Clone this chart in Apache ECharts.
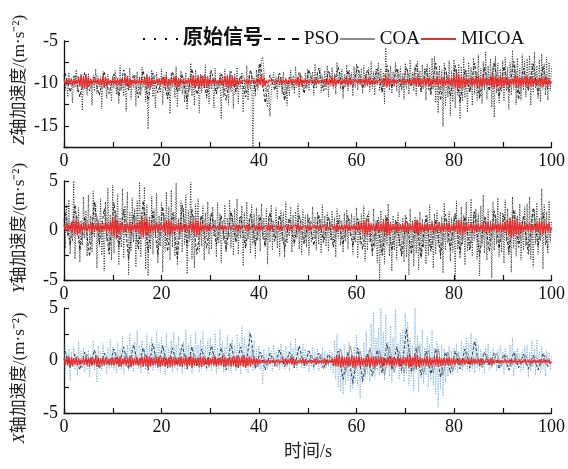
<!DOCTYPE html>
<html>
<head>
<meta charset="utf-8">
<script src="https://cdn.jsdelivr.net/npm/echarts@6/dist/echarts.min.js"></script>
<style>
  html, body { margin: 0; padding: 0; background: #fff; }
  #chart { width: 568px; height: 469px; }
</style>
</head>
<body>
<div id="chart"></div>
<script>
// Sampling of the recorded traces (seconds)
const rawStep = 0.25;   // raw signal and MICOA output
const fitStep = 1.0;    // PSO and COA outputs
const psoStart = 0.25;
const coaStart = 0.75;

const seriesNames = ['原始信号', 'PSO', 'COA', 'MICOA'];
const xTicks = [0, 20, 40, 60, 80, 100];

// ---- Z axis acceleration (m/s^2) ----
const zOrig = [
  -9.0,-10.8,-9.5,-11.6,-8.7,-10.2,-9.9,-12.3,-9.1,-10.5,-8.4,-11.0,-9.6,-10.1,-8.9,-13.2,-9.3,-10.7,-9.7,-11.4,
  -8.8,-10.3,-9.4,-12.6,-9.0,-10.9,-8.3,-11.2,-9.8,-10.4,-9.2,-13.0,-8.6,-10.6,-9.5,-11.8,-8.9,-10.2,-9.7,-12.1,
  -9.1,-10.6,-8.5,-11.3,-9.6,-12.4,-7.9,-10.8,-9.3,-11.5,-8.8,-13.3,-9.4,-10.3,-8.2,-11.9,-9.7,-10.5,-9.0,-12.7,
  -8.6,-10.9,-9.2,-11.4,-8.1,-10.4,-9.5,-12.2,-8.9,-15.4,-9.6,-10.7,-8.4,-11.6,-9.1,-12.9,-8.7,-10.3,-9.4,-11.1,
  -8.3,-12.5,-9.0,-10.6,-8.6,-11.9,-9.5,-13.6,-8.8,-10.5,-9.2,-11.7,-8.0,-12.8,-9.4,-10.9,-8.5,-11.3,-9.7,-12.2,
  -8.7,-13.1,-9.3,-10.8,-7.6,-11.5,-9.0,-12.6,-8.4,-10.4,-9.5,-13.5,-8.9,-11.1,-9.2,-10.6,-7.8,-11.8,-9.1,-12.4,
  -8.5,-10.7,-9.4,-12.9,-8.2,-11.3,-9.6,-10.5,-8.8,-14.2,-9.0,-11.6,-8.3,-10.9,-9.5,-12.5,-8.6,-11.0,-9.2,-13.0,
  -8.9,-11.2,-8.1,-12.4,-9.3,-10.6,-8.7,-13.4,-9.6,-11.0,-7.9,-12.0,-9.0,-10.7,-8.8,-17.5,-9.4,-11.5,-8.4,-10.8,
  -7.8,-9.6,-7.2,-6.9,-8.5,-10.4,-11.5,-12.8,-10.9,-13.9,-11.2,-9.6,-8.7,-10.6,-9.2,-11.8,-8.9,-10.4,-9.5,-11.2,
  -8.6,-11.9,-9.3,-12.6,-9.8,-11.4,-8.4,-10.7,-9.1,-11.2,-8.0,-10.5,-9.4,-11.7,-8.8,-10.3,-9.6,-11.0,-8.7,-10.6,
  -8.3,-10.9,-9.0,-10.2,-8.6,-11.4,-7.7,-10.6,-8.9,-10.0,-8.2,-11.1,-9.1,-10.4,-8.5,-10.8,-7.9,-11.6,-8.7,-10.3,
  -8.1,-10.6,-8.8,-11.3,-7.5,-10.1,-8.6,-10.7,-8.3,-11.8,-8.9,-10.4,-7.8,-10.9,-8.4,-10.2,-8.7,-11.5,-8.0,-10.5,
  -7.7,-10.8,-8.5,-10.1,-8.2,-11.2,-7.9,-10.5,-8.8,-10.3,-8.1,-11.0,-7.4,-10.6,-8.6,-11.4,-8.3,-10.2,-7.6,-10.9,
  -8.2,-11.1,-8.7,-12.4,-5.8,-10.3,-8.4,-10.8,-7.9,-11.2,-8.6,-10.4,-7.5,-10.9,-8.3,-11.6,-8.0,-10.5,-8.8,-11.9,
  -7.6,-10.7,-8.4,-11.3,-7.2,-10.2,-8.7,-10.9,-8.0,-11.5,-7.4,-10.4,-8.5,-11.1,-7.8,-10.6,-8.2,-12.0,-7.7,-10.8,
  -8.1,-11.4,-7.0,-10.6,-6.8,-12.3,-8.6,-13.5,-7.9,-11.0,-8.4,-15.1,-7.6,-12.7,-8.8,-11.6,-7.3,-13.8,-8.5,-12.2,
  -7.2,-12.9,-8.3,-11.4,-7.7,-14.2,-8.0,-12.1,-6.9,-11.7,-8.4,-13.4,-7.5,-11.0,-8.1,-12.6,-7.0,-11.3,-8.6,-12.0,
  -6.6,-11.5,-8.2,-12.4,-7.4,-10.8,-6.2,-11.9,-7.9,-10.6,-7.1,-12.8,-8.0,-14.0,-6.8,-11.2,-7.6,-12.3,-8.3,-11.0,
  -7.3,-12.1,-6.9,-10.9,-8.1,-13.1,-7.5,-11.4,-6.1,-10.7,-7.8,-12.5,-7.0,-11.2,-8.2,-12.0,-6.6,-10.8,-7.4,-11.6,
  -7.1,-10.9,-6.7,-12.6,-7.6,-11.1,-6.3,-10.6,-7.9,-11.8,-7.2,-12.2,-6.5,-10.7,-7.7,-11.4,-6.9,-12.0,-7.5,-10.9,
  -8.0
];
const zPso = [
  -8.8,-11.0,-9.1,-11.6,-8.7,-10.9,-9.3,-11.4,-8.6,-11.2,
  -8.9,-11.5,-8.4,-10.8,-9.0,-11.7,-8.5,-12.0,-8.8,-11.1,
  -9.2,-11.8,-8.6,-11.0,-8.9,-12.1,-8.3,-11.3,-9.0,-11.5,
  -8.5,-11.2,-8.9,-12.0,-8.6,-11.0,-9.1,-11.6,-8.4,-10.9,
  -7.6,-12.3,-9.0,-10.8,-8.8,-12.0,-9.2,-10.6,-8.7,-11.2,
  -8.4,-10.5,-8.2,-10.9,-8.6,-10.3,-8.1,-10.8,-8.5,-10.4,
  -8.0,-10.6,-8.4,-10.2,-8.3,-11.0,-7.9,-10.5,-8.2,-10.7,
  -8.1,-10.4,-7.8,-10.9,-8.3,-11.2,-7.6,-12.0,-8.2,-11.5,
  -7.9,-12.2,-8.4,-11.0,-7.6,-11.8,-8.1,-10.9,-7.5,-11.6,
  -8.0,-11.0,-7.4,-11.9,-8.2,-10.8,-7.7,-11.3,-8.0,-10.9
];
const zCoa = [
  -9.3,-10.5,-9.1,-10.7,-9.4,-10.3,-9.0,-10.6,-9.5,-10.4,
  -9.2,-10.8,-9.4,-10.5,-9.1,-10.9,-9.3,-10.6,-9.0,-10.4,
  -9.3,-10.7,-9.1,-10.5,-9.4,-10.8,-9.2,-10.4,-9.0,-10.6,
  -9.3,-10.5,-9.2,-10.7,-9.4,-10.3,-9.1,-10.6,-9.3,-10.5,
  -8.8,-11.0,-9.5,-10.4,-9.2,-10.9,-9.4,-10.3,-9.1,-10.6,
  -9.0,-10.2,-8.9,-10.4,-9.1,-10.1,-8.8,-10.3,-9.0,-10.2,
  -8.9,-10.3,-9.1,-10.0,-8.8,-10.4,-9.0,-10.2,-8.9,-10.5,
  -9.0,-10.3,-8.8,-10.5,-9.1,-10.7,-8.7,-10.9,-9.0,-10.6,
  -8.8,-10.8,-9.0,-10.5,-8.7,-10.7,-9.0,-10.4,-8.6,-10.6,
  -8.9,-10.5,-8.6,-10.8,-9.0,-10.4,-8.8,-10.6,-8.9,-10.3
];
const zMicoa = [
  -9.5,-10.1,-9.6,-10.0,-9.5,-10.1,-9.4,-10.2,-9.5,-10.1,-9.6,-10.0,-9.2,-10.4,-9.0,-10.6,-9.1,-10.5,-8.9,-10.7,
  -9.3,-10.3,-9.5,-10.1,-9.6,-10.0,-9.5,-10.1,-9.4,-10.2,-9.5,-10.1,-9.1,-10.5,-9.2,-10.4,-9.5,-10.1,-9.6,-10.0,
  -9.5,-10.1,-9.6,-10.0,-9.4,-10.2,-9.5,-10.1,-9.6,-10.0,-9.3,-10.3,-9.1,-10.5,-9.4,-10.2,-9.6,-10.0,-9.5,-10.1,
  -9.6,-10.0,-9.5,-10.1,-9.6,-10.0,-9.4,-10.2,-9.0,-10.6,-9.2,-10.4,-9.5,-10.1,-9.6,-10.0,-9.5,-10.1,-9.4,-10.2,
  -9.5,-10.1,-9.3,-10.3,-9.1,-10.5,-9.5,-10.1,-9.6,-10.0,-9.3,-10.3,-9.1,-10.5,-9.4,-10.2,-9.6,-10.0,-9.5,-10.1,
  -9.6,-10.0,-9.5,-10.1,-9.3,-10.3,-9.1,-10.5,-9.4,-10.2,-9.0,-10.6,-9.2,-10.4,-9.3,-10.3,-9.1,-10.5,-9.4,-10.2,
  -9.5,-10.1,-9.6,-10.0,-9.5,-10.1,-9.6,-10.0,-9.4,-10.2,-9.5,-10.1,-9.2,-10.4,-9.0,-10.6,-9.1,-10.5,-9.3,-10.3,
  -9.2,-10.4,-9.5,-10.1,-9.6,-10.0,-9.7,-9.9,-9.6,-10.0,-9.5,-10.1,-9.6,-10.0,-9.7,-9.9,-9.6,-10.0,-9.5,-10.1,
  -9.4,-10.2,-9.1,-10.5,-9.3,-10.3,-9.6,-10.0,-9.7,-9.9,-9.7,-9.9,-9.6,-10.0,-9.7,-9.9,-9.6,-10.0,-9.5,-10.1,
  -9.6,-10.0,-9.5,-10.1,-9.6,-10.0,-9.5,-10.1,-9.6,-10.0,-9.5,-10.1,-9.2,-10.4,-9.3,-10.3,-9.6,-10.0,-9.5,-10.1,
  -9.6,-10.0,-9.7,-9.9,-9.6,-10.0,-9.5,-10.1,-9.6,-10.0,-9.7,-9.9,-9.6,-10.0,-9.5,-10.1,-9.4,-10.2,-9.5,-10.1,
  -9.2,-10.4,-9.3,-10.3,-9.6,-10.0,-9.5,-10.1,-9.6,-10.0,-9.5,-10.1,-9.3,-10.3,-9.4,-10.2,-9.6,-10.0,-9.7,-9.9,
  -9.6,-10.0,-9.5,-10.1,-9.6,-10.0,-9.5,-10.1,-9.3,-10.3,-9.4,-10.2,-9.6,-10.0,-9.5,-10.1,-9.6,-10.0,-9.7,-9.9,
  -9.6,-10.0,-9.4,-10.2,-9.1,-10.5,-9.3,-10.3,-9.6,-10.0,-9.5,-10.1,-9.6,-10.0,-9.7,-9.9,-9.6,-10.0,-9.5,-10.1,
  -9.6,-10.0,-9.5,-10.1,-9.6,-10.0,-9.5,-10.1,-9.3,-10.3,-9.2,-10.4,-9.4,-10.2,-9.5,-10.1,-9.3,-10.3,-9.4,-10.2,
  -9.3,-10.3,-9.5,-10.1,-9.4,-10.2,-9.3,-10.3,-9.5,-10.1,-9.2,-10.4,-9.4,-10.2,-9.5,-10.1,-9.3,-10.3,-9.4,-10.2,
  -9.1,-10.5,-8.8,-10.8,-9.0,-10.6,-9.2,-10.4,-9.1,-10.5,-9.4,-10.2,-9.5,-10.1,-9.3,-10.3,-9.4,-10.2,-9.2,-10.4,
  -9.1,-10.5,-9.3,-10.3,-9.2,-10.4,-9.4,-10.2,-9.5,-10.1,-9.1,-10.5,-9.0,-10.6,-9.2,-10.4,-9.3,-10.3,-9.1,-10.5,
  -9.2,-10.4,-9.4,-10.2,-9.3,-10.3,-9.5,-10.1,-9.4,-10.2,-9.2,-10.4,-9.1,-10.5,-9.3,-10.3,-9.4,-10.2,-9.2,-10.4,
  -9.1,-10.5,-9.3,-10.3,-9.2,-10.4,-9.4,-10.2,-9.5,-10.1,-9.3,-10.3,-9.2,-10.4,-9.4,-10.2,-9.3,-10.3,-9.5,-10.1,
  -9.8
];

// ---- Y axis acceleration (m/s^2) ----
const yOrig = [
  1.2,-1.8,2.6,-0.6,3.1,-2.4,0.9,-1.1,5.0,-2.9,1.7,-0.4,2.3,-3.2,1.0,-1.5,3.4,-0.8,2.0,-2.6,
  3.6,-1.3,1.5,-2.2,4.0,-0.7,2.7,-3.8,1.1,-1.6,3.2,-2.5,0.8,-4.1,2.9,-1.0,4.3,-1.9,1.6,-3.0,
  4.6,-2.3,2.0,-0.9,3.7,-3.5,1.3,-1.7,4.2,-2.8,2.5,-0.5,3.9,-4.5,1.8,-2.1,3.3,-1.2,2.2,-3.7,
  3.0,-1.4,4.9,-2.7,1.7,-0.8,4.4,-3.9,2.6,-4.6,1.4,-1.9,3.5,-2.4,2.1,-0.6,3.8,-3.3,1.5,-1.6,
  2.8,-4.2,1.6,-2.0,3.9,-1.2,2.4,-3.0,4.1,-1.7,1.9,-2.6,4.8,-3.5,1.2,-0.9,3.0,-2.2,2.3,-1.4,
  3.6,-4.4,2.0,-1.1,4.9,-2.9,1.5,-3.8,2.7,-0.7,3.2,-2.1,1.4,-1.6,2.5,-3.0,1.8,-0.8,2.9,-2.4,
  1.5,-1.9,2.4,-0.6,1.1,-2.7,2.8,-1.3,1.7,-3.3,0.9,-1.0,2.6,-2.2,1.3,-0.7,3.1,-1.8,1.6,-2.5,
  2.2,-1.1,3.2,-2.4,1.4,-0.8,2.5,-3.6,1.8,-1.5,2.9,-0.9,1.2,-2.3,2.6,-1.4,1.7,-2.8,2.3,-1.0,
  1.6,-2.1,2.7,-0.8,1.3,-1.6,2.2,-3.4,1.5,-1.2,2.6,-2.0,1.0,-0.7,2.3,-1.8,1.4,-2.6,2.0,-1.1,
  1.8,-2.7,2.9,-1.3,1.2,-0.6,2.4,-2.2,1.6,-1.5,1.9,-0.8,2.7,-1.9,1.1,-2.4,2.1,-1.0,1.5,-1.7,
  1.7,-2.5,1.0,-1.2,2.4,-0.7,1.4,-2.0,1.9,-1.4,1.2,-2.3,2.6,-0.9,1.5,-1.6,1.8,-2.1,1.1,-1.0,
  2.0,-1.3,1.3,-2.7,2.2,-0.8,1.6,-1.5,1.0,-2.2,1.8,-1.1,2.1,-1.9,1.2,-0.6,1.7,-2.4,1.4,-1.2,
  2.3,-2.8,1.1,-1.4,1.7,-0.9,2.5,-3.1,1.3,-2.0,1.9,-1.2,0.8,-2.6,2.2,-1.7,1.0,-3.3,1.4,-5.0,
  2.0,-2.2,1.2,-3.4,1.6,-1.5,2.7,-2.6,0.9,-4.1,1.5,-2.0,1.1,-3.0,1.8,-1.6,0.7,-2.4,1.3,-3.2,
  1.6,-2.7,0.8,-4.5,2.2,-1.9,1.0,-3.6,1.4,-2.3,0.6,-4.0,1.9,-2.8,1.2,-1.7,0.9,-3.4,1.5,-2.5,
  2.6,-1.8,1.0,-3.8,1.7,-2.4,2.0,-1.5,0.8,-2.9,1.4,-4.3,2.8,-2.0,1.1,-1.3,1.9,-3.1,1.3,-2.2,
  1.5,-5.0,3.0,-1.9,1.2,-2.8,2.4,-1.4,1.6,-3.5,2.9,-2.1,1.3,-1.6,3.2,-2.6,1.8,-1.0,2.2,-2.9,
  1.7,-4.6,2.5,-1.5,3.6,-2.3,1.4,-3.0,2.1,-1.2,1.0,-4.8,2.9,-2.0,1.6,-1.4,3.3,-2.7,1.9,-2.2,
  1.8,-3.3,3.1,-1.1,2.2,-2.5,1.3,-4.2,3.4,-1.8,2.0,-2.6,1.5,-1.3,2.7,-3.0,1.1,-2.0,2.4,-1.6,
  2.7,-1.8,3.4,-2.9,1.6,-3.7,2.1,-1.4,2.8,-2.4,1.3,-1.1,4.2,-3.9,2.6,-1.5,1.9,-2.3,3.0,-1.2,
  1.0
];
const yPso = [
  1.8,-1.5,2.6,-2.0,1.4,-2.6,2.9,-1.3,2.2,-2.4,
  2.8,-1.7,2.1,-2.9,1.6,-1.9,3.0,-2.2,1.9,-2.5,
  2.4,-2.1,1.7,-2.8,2.6,-1.6,2.2,-2.4,1.5,-1.8,
  1.8,-1.4,1.5,-2.0,1.9,-1.2,1.4,-1.8,1.7,-1.5,
  1.4,-1.6,1.8,-1.1,1.5,-1.9,1.2,-1.3,1.6,-1.4,
  1.3,-1.5,1.6,-1.2,1.4,-1.7,1.1,-1.4,1.5,-1.6,
  1.2,-1.9,1.5,-2.2,1.0,-2.5,1.4,-2.0,0.9,-2.6,
  1.3,-2.4,1.0,-2.7,1.5,-2.1,1.1,-2.5,1.6,-1.9,
  1.7,-2.3,1.4,-2.0,1.9,-2.6,1.3,-2.1,2.0,-1.8,
  1.6,-2.2,2.1,-1.7,1.5,-2.4,2.3,-1.6,1.8,-2.0
];
const yCoa = [
  1.2,-0.8,1.4,-0.9,1.1,-1.0,1.5,-0.7,1.3,-0.9,
  1.6,-0.6,1.2,-1.1,1.4,-0.8,1.7,-0.9,1.1,-1.0,
  1.3,-0.9,1.5,-0.7,1.2,-1.0,1.4,-0.8,1.1,-0.6,
  1.0,-0.6,1.1,-0.8,0.9,-0.5,1.0,-0.7,1.1,-0.6,
  0.9,-0.7,1.0,-0.5,1.1,-0.8,0.8,-0.6,1.0,-0.7,
  0.9,-0.6,1.0,-0.7,0.8,-0.5,1.0,-0.8,0.9,-0.6,
  0.8,-0.9,0.7,-1.1,0.9,-1.2,0.6,-1.0,0.8,-1.1,
  0.7,-1.2,0.8,-1.0,0.6,-1.1,0.9,-1.3,0.7,-0.9,
  1.0,-1.1,0.8,-0.9,1.1,-1.2,0.9,-0.8,1.2,-1.0,
  1.0,-0.9,1.3,-1.1,0.9,-1.0,1.2,-0.8,1.1,-0.9
];
const yMicoa = [
  0.6,0.0,0.7,-0.1,0.6,0.0,0.8,-0.2,1.0,-0.4,1.1,-0.5,0.9,-0.3,0.7,-0.1,0.6,0.0,0.7,-0.1,
  0.6,0.0,0.8,-0.2,0.7,-0.1,0.6,0.0,0.8,-0.2,0.7,-0.1,0.6,0.0,0.8,-0.2,0.7,-0.1,0.9,-0.3,
  1.2,-0.6,1.4,-0.8,1.0,-0.4,0.7,-0.1,0.8,-0.2,0.6,0.0,0.7,-0.1,0.9,-0.3,0.6,0.0,0.7,-0.1,
  0.8,-0.2,1.0,-0.4,1.3,-0.7,1.1,-0.5,1.2,-0.6,0.9,-0.3,0.7,-0.1,0.6,0.0,0.8,-0.2,0.7,-0.1,
  0.6,0.0,0.8,-0.2,1.0,-0.4,1.1,-0.5,0.9,-0.3,0.7,-0.1,0.6,0.0,0.8,-0.2,0.7,-0.1,0.6,0.0,
  0.7,-0.1,0.6,0.0,0.8,-0.2,0.9,-0.3,1.1,-0.5,1.0,-0.4,0.7,-0.1,0.6,0.0,0.7,-0.1,0.6,0.0,
  0.5,0.1,0.4,0.2,0.5,0.1,0.4,0.2,0.5,0.1,0.6,0.0,0.5,0.1,0.4,0.2,0.5,0.1,0.4,0.2,
  0.5,0.1,0.6,0.0,0.5,0.1,0.4,0.2,0.5,0.1,0.6,0.0,0.5,0.1,0.4,0.2,0.6,0.0,0.5,0.1,
  0.6,0.0,0.5,0.1,0.4,0.2,0.5,0.1,0.7,-0.1,0.5,0.1,0.4,0.2,0.5,0.1,0.6,0.0,0.5,0.1,
  0.4,0.2,0.5,0.1,0.6,0.0,0.5,0.1,0.4,0.2,0.6,0.0,0.7,-0.1,0.5,0.1,0.4,0.2,0.5,0.1,
  0.6,0.0,0.5,0.1,0.4,0.2,0.5,0.1,0.6,0.0,0.5,0.1,0.4,0.2,0.6,0.0,0.5,0.1,0.4,0.2,
  0.5,0.1,0.6,0.0,0.7,-0.1,0.5,0.1,0.6,0.0,0.5,0.1,0.7,-0.1,0.6,0.0,0.5,0.1,0.6,0.0,
  0.7,-0.1,0.6,0.0,0.8,-0.2,1.0,-0.4,1.1,-0.5,0.8,-0.2,0.6,0.0,0.7,-0.1,0.6,0.0,0.8,-0.2,
  0.7,-0.1,0.9,-0.3,1.2,-0.6,1.0,-0.4,0.7,-0.1,0.6,0.0,0.8,-0.2,0.7,-0.1,0.6,0.0,0.7,-0.1,
  0.8,-0.2,0.7,-0.1,0.6,0.0,0.8,-0.2,0.9,-0.3,1.1,-0.5,0.8,-0.2,0.7,-0.1,0.6,0.0,0.7,-0.1,
  0.6,0.0,0.8,-0.2,0.7,-0.1,0.6,0.0,0.8,-0.2,0.7,-0.1,0.6,0.0,0.7,-0.1,0.8,-0.2,0.6,0.0,
  0.7,-0.1,0.8,-0.2,1.0,-0.4,1.1,-0.5,0.8,-0.2,0.7,-0.1,0.6,0.0,0.8,-0.2,0.7,-0.1,0.6,0.0,
  0.7,-0.1,0.6,0.0,0.8,-0.2,0.7,-0.1,0.9,-0.3,0.7,-0.1,0.6,0.0,0.8,-0.2,0.7,-0.1,0.8,-0.2,
  0.7,-0.1,0.9,-0.3,1.1,-0.5,1.3,-0.7,1.2,-0.6,1.0,-0.4,1.1,-0.5,0.8,-0.2,0.7,-0.1,0.6,0.0,
  0.7,-0.1,0.8,-0.2,0.6,0.0,0.7,-0.1,0.8,-0.2,0.9,-0.3,1.0,-0.4,0.8,-0.2,0.7,-0.1,0.8,-0.2,
  0.3
];

// ---- X axis acceleration (m/s^2) ----
const xOrig = [
  1.5,-1.2,0.6,-0.4,1.1,-1.9,0.8,-0.6,1.3,-0.9,0.5,-1.4,1.8,-0.7,0.9,-0.3,1.2,-1.1,0.7,-0.8,
  1.0,-1.6,0.6,-0.5,1.9,-0.9,0.8,-2.1,1.4,-0.6,0.9,-1.0,1.6,-0.4,0.7,-1.3,1.2,-0.8,2.0,-0.7,
  1.3,-0.9,0.8,-1.2,1.7,-0.5,1.1,-0.8,2.3,-1.3,0.9,-0.6,1.5,-1.0,2.6,-0.7,1.2,-1.1,1.8,-0.5,
  2.9,-0.8,1.4,-1.2,1.9,-0.6,1.1,-0.9,2.5,-1.3,1.6,-0.5,2.2,-1.0,1.3,-0.7,2.8,-0.9,1.7,-1.2,
  2.1,-0.6,1.4,-1.4,2.6,-0.8,1.2,-0.5,1.9,-1.1,2.7,-0.7,1.5,-1.0,2.3,-0.6,1.1,-1.3,1.8,-0.8,
  2.9,-0.9,1.6,-0.6,2.4,-1.2,1.3,-0.7,2.7,-0.5,1.5,-1.1,2.0,-0.8,2.8,-0.6,1.4,-1.0,1.9,-0.7,
  2.2,-1.0,1.5,-0.6,2.6,-1.3,1.2,-0.8,3.0,-0.5,1.8,-1.1,1.3,-0.7,2.4,-0.9,1.6,-1.2,2.1,-0.6,
  1.4,-1.0,2.5,-0.7,1.7,-1.3,3.3,-0.6,2.2,-0.9,1.5,-1.2,2.8,-0.5,1.3,-1.0,1.9,-0.8,1.1,-0.6,
  1.4,-0.9,0.8,-2.3,1.1,-0.6,0.7,-0.8,1.3,-0.5,0.9,-1.0,1.5,-0.6,0.8,-0.4,1.2,-0.9,1.6,-0.5,
  1.0,-0.8,1.4,-0.6,0.9,-1.0,1.8,-0.5,1.2,-0.7,2.1,-0.9,1.3,-0.4,0.8,-0.7,1.6,-0.8,1.1,-0.5,
  1.0,-1.1,0.7,-0.6,1.3,-0.9,0.8,-0.5,1.1,-1.0,0.6,-0.7,1.2,-0.5,0.9,-0.8,0.7,-0.6,1.0,-0.9,
  0.8,-1.2,1.9,-1.8,2.5,-2.6,1.2,-2.9,0.7,-3.2,1.5,-2.4,0.9,-2.0,1.8,-3.0,0.6,-2.7,1.3,-1.9,
  2.4,-2.5,1.1,-3.6,0.5,-2.2,1.7,-1.6,2.8,-1.3,1.0,-2.0,3.5,-1.1,4.6,-1.7,2.2,-0.9,3.1,-1.4,
  5.0,-1.0,2.7,-1.9,4.4,-0.8,1.8,-1.5,3.3,-2.1,2.2,-1.2,4.9,-0.7,1.6,-1.8,2.6,-1.3,3.0,-2.0,
  4.5,-1.2,3.7,-2.4,2.1,-1.6,1.4,-2.9,5.0,-1.1,2.4,-3.0,1.7,-1.7,2.9,-2.2,1.2,-1.4,2.3,-2.6,
  1.6,-1.9,2.9,-2.4,1.2,-3.2,1.8,-4.5,0.9,-2.7,1.5,-3.4,1.1,-2.1,0.8,-1.5,1.4,-1.1,0.9,-1.3,
  1.2,-0.9,1.6,-1.2,0.9,-0.7,1.9,-1.0,1.4,-0.6,2.2,-0.9,1.7,-1.1,2.6,-0.8,1.8,-1.2,2.1,-0.7,
  1.5,-1.0,1.1,-0.6,0.8,-1.2,1.3,-0.5,1.6,-0.9,0.9,-0.7,1.2,-0.4,0.7,-1.0,1.0,-0.8,1.4,-0.6,
  0.8,-1.3,1.1,-0.7,0.6,-1.0,1.5,-0.5,2.2,-1.5,0.9,-0.8,1.2,-0.6,0.7,-1.1,1.0,-0.9,1.3,-0.5,
  1.5,-1.6,0.8,-1.0,1.9,-0.6,1.1,-1.4,2.0,-0.7,0.9,-1.2,1.3,-0.8,0.7,-1.5,1.0,-0.6,0.8,-0.9,
  0.4
];
const xPso = [
  0.9,-0.7,0.6,-0.9,0.8,-0.6,1.0,-0.8,0.7,-0.5,
  1.1,-0.6,1.3,-0.8,1.5,-0.5,1.2,-0.9,1.6,-0.6,
  1.4,-0.7,1.2,-0.5,1.5,-0.8,1.3,-0.6,1.1,-0.7,
  1.4,-0.5,1.2,-0.9,1.6,-0.6,1.3,-0.7,2.6,-0.8,
  0.8,-0.9,0.7,-0.5,1.0,-0.6,0.8,-0.7,1.4,-0.5,
  0.9,-0.6,0.7,-0.8,0.6,-0.5,0.9,-1.8,0.8,-2.2,
  1.2,-2.0,0.7,-1.5,1.0,-1.2,1.6,-0.9,1.3,-1.0,
  3.0,-1.1,1.2,-1.4,0.9,-1.3,1.1,-1.6,0.8,-1.2,
  0.9,-0.8,1.1,-0.7,1.8,-0.6,0.8,-0.5,0.7,-0.8,
  0.6,-0.9,0.8,-0.7,0.6,-0.8,0.5,-0.9,0.7,-0.6
];
const xCoa = [
  0.5,-0.6,0.4,-0.7,0.6,-0.5,0.5,-0.6,0.4,-0.5,
  0.6,-0.5,0.7,-0.6,0.5,-0.7,0.6,-0.5,0.7,-0.6,
  0.6,-0.7,0.5,-0.6,0.7,-0.5,0.6,-0.7,0.5,-0.6,
  0.6,-0.5,0.7,-0.6,0.5,-0.7,0.6,-0.5,0.7,-0.6,
  0.5,-0.5,0.4,-0.6,0.5,-0.4,0.6,-0.5,0.4,-0.5,
  0.5,-0.4,0.6,-0.5,0.4,-0.6,1.1,-1.2,1.4,-1.0,
  0.9,-1.3,1.2,-0.9,1.0,-1.4,1.3,-1.1,0.9,-1.2,
  1.2,-1.0,1.4,-1.3,1.0,-1.2,1.1,-1.4,0.8,-1.0,
  0.7,-0.6,0.8,-0.5,0.6,-0.7,0.5,-0.6,0.7,-0.5,
  0.5,-0.6,0.6,-0.4,0.5,-0.6,0.4,-0.5,0.5,-0.4
];
const xMicoa = [
  0.2,-0.4,0.3,-0.5,0.4,-0.6,0.3,-0.5,0.2,-0.4,0.3,-0.5,0.2,-0.4,0.1,-0.3,0.2,-0.4,0.3,-0.5,
  0.2,-0.4,0.3,-0.5,0.2,-0.4,0.4,-0.6,0.3,-0.5,0.2,-0.4,0.3,-0.5,0.2,-0.4,0.1,-0.3,0.2,-0.4,
  0.3,-0.5,0.2,-0.4,0.3,-0.5,0.4,-0.6,0.2,-0.4,0.3,-0.5,0.2,-0.4,0.4,-0.6,0.3,-0.5,0.2,-0.4,
  0.3,-0.5,0.2,-0.4,0.4,-0.6,0.3,-0.5,0.5,-0.7,0.4,-0.6,0.3,-0.5,0.2,-0.4,0.3,-0.5,0.4,-0.6,
  0.3,-0.5,0.4,-0.6,0.2,-0.4,0.3,-0.5,0.4,-0.6,0.3,-0.5,0.2,-0.4,0.3,-0.5,0.4,-0.6,0.2,-0.4,
  0.4,-0.6,0.3,-0.5,0.5,-0.7,0.3,-0.5,0.2,-0.4,0.3,-0.5,0.4,-0.6,0.3,-0.5,0.2,-0.4,0.3,-0.5,
  0.2,-0.4,0.3,-0.5,0.4,-0.6,0.2,-0.4,0.3,-0.5,0.4,-0.6,0.3,-0.5,0.2,-0.4,0.4,-0.6,0.3,-0.5,
  0.4,-0.6,0.5,-0.7,0.3,-0.5,0.4,-0.6,0.5,-0.7,0.3,-0.5,0.4,-0.6,0.2,-0.4,0.3,-0.5,0.2,-0.4,
  0.1,-0.3,0.0,-0.2,0.1,-0.3,0.0,-0.2,0.1,-0.3,0.0,-0.2,0.1,-0.3,0.0,-0.2,0.1,-0.3,0.0,-0.2,
  0.1,-0.3,0.2,-0.4,0.1,-0.3,0.2,-0.4,0.3,-0.5,0.1,-0.3,0.0,-0.2,0.1,-0.3,0.2,-0.4,0.1,-0.3,
  0.0,-0.2,0.1,-0.3,0.0,-0.2,0.2,-0.4,0.1,-0.3,0.0,-0.2,0.1,-0.3,0.2,-0.4,0.1,-0.3,0.0,-0.2,
  0.2,-0.4,0.3,-0.5,0.4,-0.6,0.5,-0.7,0.4,-0.6,0.3,-0.5,0.4,-0.6,0.3,-0.5,0.5,-0.7,0.4,-0.6,
  0.3,-0.5,0.4,-0.6,0.3,-0.5,0.2,-0.4,0.4,-0.6,0.5,-0.7,0.3,-0.5,0.4,-0.6,0.3,-0.5,0.2,-0.4,
  0.4,-0.6,0.3,-0.5,0.2,-0.4,0.3,-0.5,0.4,-0.6,0.3,-0.5,0.2,-0.4,0.4,-0.6,0.3,-0.5,0.2,-0.4,
  0.3,-0.5,0.5,-0.7,0.4,-0.6,0.3,-0.5,0.6,-0.8,0.4,-0.6,0.3,-0.5,0.2,-0.4,0.3,-0.5,0.4,-0.6,
  0.3,-0.5,0.2,-0.4,0.3,-0.5,0.4,-0.6,0.3,-0.5,0.2,-0.4,0.3,-0.5,0.2,-0.4,0.3,-0.5,0.2,-0.4,
  0.2,-0.4,0.1,-0.3,0.2,-0.4,0.1,-0.3,0.2,-0.4,0.1,-0.3,0.2,-0.4,0.1,-0.3,0.2,-0.4,0.1,-0.3,
  0.1,-0.3,0.2,-0.4,0.1,-0.3,0.0,-0.2,0.1,-0.3,0.2,-0.4,0.1,-0.3,0.0,-0.2,0.1,-0.3,0.0,-0.2,
  0.0,-0.2,0.1,-0.3,0.0,-0.2,0.1,-0.3,0.0,-0.2,0.1,-0.3,0.0,-0.2,0.1,-0.3,0.0,-0.2,0.1,-0.3,
  0.0,-0.2,0.1,-0.3,0.0,-0.2,0.1,-0.3,0.0,-0.2,0.1,-0.3,0.0,-0.2,0.1,-0.3,0.0,-0.2,0.1,-0.3,
  -0.1
];

// Axis ranges of the three panels
const zRange = { min: -17.5, max: -5, interval: 2.5 };
const yRange = { min: -5, max: 5, interval: 2.5 };
const xRange = { min: -5, max: 5, interval: 2.5 };

const SERIF = "'Liberation Serif', 'Times New Roman', 'Noto Sans CJK SC', serif";

// Legend keys: dotted, dashed and solid strokes drawn as flat bars
const KEY_DOTTED = 'path://M0,0h2v2h-2zM11,0h2v2h-2zM22,0h2v2h-2zM33,0h2v2h-2z';
const KEY_DASHED = 'path://M0,0h7v2h-7zM14,0h7v2h-7zM28,0h7v2h-7z';
const KEY_SOLID = 'path://M0,0h35v2h-35z';

function withTime(values, start, step) {
  return values.map((v, i) => [start + i * step, v]);
}

const grids = [
  { left: 64, right: 15, top: 41, height: 106 },
  { left: 64, right: 15, top: 181, height: 99 },
  { left: 64, right: 15, top: 308, height: 105 }
];

const axisLine = { show: true, onZero: false, lineStyle: { color: '#111', width: 1.3 } };
const axisTick = { show: true, inside: true, length: 5, lineStyle: { color: '#111', width: 1.2 } };

const xAxes = grids.map((g, i) => ({
  type: 'value', gridIndex: i, min: 0, max: 100, interval: 10,
  axisLine, axisTick, splitLine: { show: false },
  axisLabel: {
    margin: 5, color: '#111', fontFamily: SERIF, fontSize: 18,
    formatter: v => (xTicks.indexOf(v) >= 0 ? String(v) : '')
  }
}));

const yAxes = [zRange, yRange, xRange].map((r, i) => ({
  type: 'value', gridIndex: i, min: r.min, max: r.max, interval: r.interval,
  axisLine, axisTick, splitLine: { show: false },
  axisLabel: {
    margin: 6, color: '#111', fontFamily: SERIF, fontSize: 18,
    formatter: v => (Math.abs(v % 5) < 1e-9 ? String(v) : '')
  }
}));

const panels = [
  { orig: zOrig, pso: zPso, coa: zCoa, micoa: zMicoa, origColor: '#1a1a1a', psoColor: '#222' },
  { orig: yOrig, pso: yPso, coa: yCoa, micoa: yMicoa, origColor: '#1a1a1a', psoColor: '#222' },
  { orig: xOrig, pso: xPso, coa: xCoa, micoa: xMicoa, origColor: '#6aa6d6', psoColor: '#1d3f5e' }
];

const series = [];
panels.forEach((p, i) => {
  const common = { type: 'line', xAxisIndex: i, yAxisIndex: i, showSymbol: false, symbol: 'none', silent: true };
  series.push(Object.assign({}, common, {
    name: seriesNames[0], data: withTime(p.orig, 0, rawStep),
    lineStyle: { color: p.origColor, width: 0.9, type: [1, 1.5] }, itemStyle: { color: p.origColor }
  }));
  series.push(Object.assign({}, common, {
    name: seriesNames[1], data: withTime(p.pso, psoStart, fitStep),
    lineStyle: { color: p.psoColor, width: 1, type: [3, 2] }, itemStyle: { color: p.psoColor }
  }));
  series.push(Object.assign({}, common, {
    name: seriesNames[2], data: withTime(p.coa, coaStart, fitStep),
    lineStyle: { color: '#9a9a9a', width: 1 }, itemStyle: { color: '#9a9a9a' }
  }));
  series.push(Object.assign({}, common, {
    name: seriesNames[3], data: withTime(p.micoa, 0, rawStep),
    lineStyle: { color: '#ee2a2a', width: 1.2 }, itemStyle: { color: '#ee2a2a' }
  }));
});

function yTitle(letter, cy) {
  return {
    type: 'text', x: 20, y: cy, rotation: Math.PI / 2, silent: true,
    style: {
      text: '{i|' + letter + '}轴加速度/(m·s⁻²)',
      fontFamily: SERIF, fontSize: 17, fill: '#222',
      align: 'center', verticalAlign: 'middle',
      rich: { i: { fontStyle: 'italic', fontFamily: SERIF, fontSize: 17, fill: '#222' } }
    }
  };
}

const option = {
  animation: false,
  backgroundColor: '#fff',
  grid: grids,
  xAxis: xAxes,
  yAxis: yAxes,
  legend: {
    left: 138, top: 24, itemWidth: 35, itemHeight: 2, itemGap: 1,
    textStyle: { fontFamily: SERIF, fontSize: 19, color: '#111' },
    data: [
      { name: seriesNames[0], icon: KEY_DOTTED, itemStyle: { color: '#111' }, textStyle: { fontWeight: 'bold', fontSize: 20 } },
      { name: seriesNames[1], icon: KEY_DASHED, itemStyle: { color: '#111' } },
      { name: seriesNames[2], icon: KEY_SOLID, itemStyle: { color: '#8a8a8a' } },
      { name: seriesNames[3], icon: KEY_SOLID, itemStyle: { color: '#ee2a2a' } }
    ]
  },
  graphic: [
    yTitle('Z', 80),
    yTitle('Y', 228),
    yTitle('X', 378),
    {
      type: 'text', x: 308, y: 452, silent: true,
      style: { text: '时间/s', fontFamily: SERIF, fontSize: 18, fill: '#222', align: 'center', verticalAlign: 'middle' }
    }
  ],
  series
};

const chart = echarts.init(document.getElementById('chart'), null, { renderer: 'canvas' });
chart.setOption(option);
</script>
</body>
</html>
